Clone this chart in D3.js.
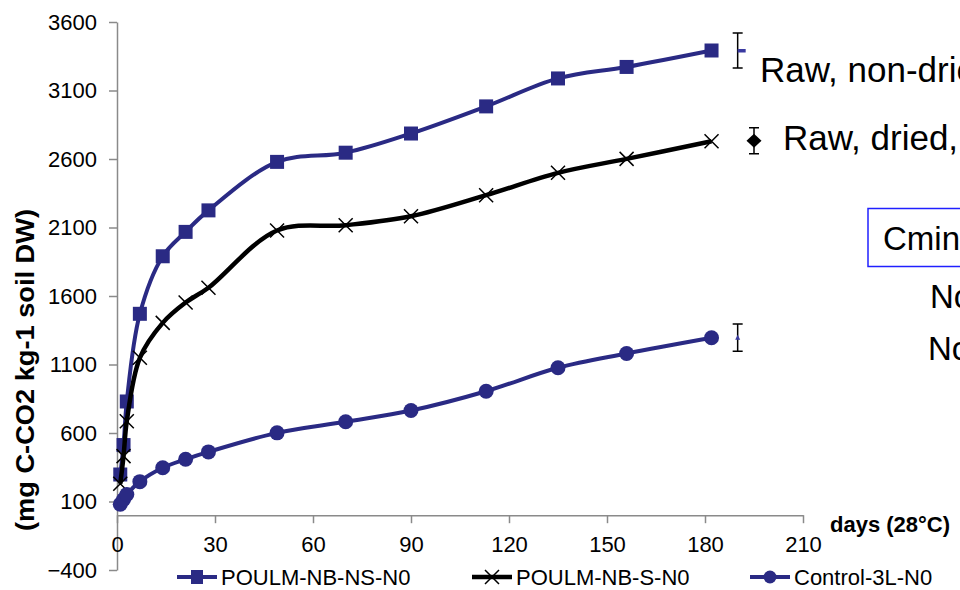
<!DOCTYPE html>
<html><head><meta charset="utf-8">
<script src="https://cdn.jsdelivr.net/npm/d3@7"></script>
<style>
body{margin:0;background:#fff;}
svg{display:block;font-family:"Liberation Sans",Arial,sans-serif;}
</style></head><body>
<svg id="c" width="960" height="590"></svg>
<script>
// ---- data ----
const days = [1, 2, 3, 7, 14, 21, 28, 49, 70, 90, 113, 135, 156, 182];
const seriesNames = ["POULM-NB-NS-N0", "POULM-NB-S-N0", "Control-3L-N0"];
const poulmNS = [297, 512, 830, 1470, 1890, 2068, 2225, 2579, 2646, 2786, 2984, 3188, 3272, 3392];
const poulmS  = [230, 431, 686, 1149, 1404, 1552, 1660, 2078, 2117, 2182, 2336, 2499, 2601, 2730];
const control = [80, 115, 151, 245, 346, 408, 462, 601, 682, 764, 905, 1076, 1180, 1295];
const yTicks = [-400, 100, 600, 1100, 1600, 2100, 2600, 3100, 3600];
const xTicks = [0, 30, 60, 90, 120, 150, 180, 210];
const errDays = [190, 195, 190];
const errMean = [3392, 2733, 1296];
const errSd = [127, 95, 100];
const sideLabels = ["Raw, non-dried", "Raw, dried, sieved"];
const boxLabel = "Cmin (mg C-CO2 kg-1)";
const noteLabels = ["No amendment", "No nitrogen"];

const navy = "#2a2a84";
const svg = d3.select("#c");
const x = d3.scaleLinear([0, 210], [117, 803]);
const y = d3.scaleLinear([-400, 3600], [570, 22]);

// axes
const gy = svg.append("g").attr("transform", `translate(${x(0)},0)`)
  .call(d3.axisLeft(y).tickValues(yTicks).tickSize(8).tickSizeOuter(0).tickPadding(12).tickFormat(d3.format("d")));
const gx = svg.append("g").attr("transform", `translate(0,${y(0)})`)
  .call(d3.axisBottom(x).tickValues(xTicks).tickSize(8).tickSizeOuter(0).tickPadding(13));
[gx, gy].forEach(g => {
  g.selectAll("path,line").attr("stroke", "#8a8a8a").attr("stroke-width", 1.5);
  g.selectAll("text").attr("fill", "#000").style("font-size", "22px").style("font-family", '"Liberation Sans",Arial,sans-serif');
});

// axis titles
svg.append("text").attr("transform", `translate(34,370) rotate(-90)`)
  .attr("text-anchor", "middle").style("font-weight", "bold").style("font-size", "25px")
  .attr("textLength", 322).attr("lengthAdjust", "spacingAndGlyphs")
  .text("(mg C-CO2 kg-1 soil DW)");
svg.append("text").attr("x", 830).attr("y", 532).style("font-weight", "bold").style("font-size", "22px")
  .text("days (28°C)");

const line = d3.line().x((d, i) => x(days[i])).y(d => y(d)).curve(d3.curveCatmullRom.alpha(0.5));

// series 1: squares
svg.append("path").datum(poulmNS).attr("d", line).attr("fill", "none").attr("stroke", navy).attr("stroke-width", 4);
svg.append("g").selectAll("rect").data(poulmNS).join("rect")
  .attr("x", (d, i) => x(days[i]) - 7).attr("y", d => y(d) - 7).attr("width", 14).attr("height", 14).attr("fill", navy);

// series 2: crosses
svg.append("path").datum(poulmS).attr("d", line).attr("fill", "none").attr("stroke", "#000").attr("stroke-width", 4.5);
const crossPath = (cx, cy, s) => `M${cx - s},${cy - s}L${cx + s},${cy + s}M${cx - s},${cy + s}L${cx + s},${cy - s}`;
svg.append("g").selectAll("path").data(poulmS).join("path")
  .attr("d", (d, i) => crossPath(x(days[i]), y(d), 7)).attr("stroke", "#000").attr("stroke-width", 1.5);

// series 3: circles
svg.append("path").datum(control).attr("d", line).attr("fill", "none").attr("stroke", navy).attr("stroke-width", 4);
svg.append("g").selectAll("circle").data(control).join("circle")
  .attr("cx", (d, i) => x(days[i])).attr("cy", d => y(d)).attr("r", 7.5).attr("fill", navy);

// error bars
const eg = svg.append("g");
errDays.forEach((dd, i) => {
  const cx = x(dd), t = y(errMean[i] + errSd[i]), b = y(errMean[i] - errSd[i]);
  eg.append("path").attr("d", `M${cx},${t}V${b}M${cx - 5},${t}H${cx + 5}M${cx - 5},${b}H${cx + 5}`)
    .attr("stroke", "#000").attr("stroke-width", 1.5).attr("fill", "none");
});
{
  const cy0 = y(errMean[0]), cx0 = x(errDays[0]);
  eg.append("rect").attr("x", cx0).attr("y", cy0 - 1.5).attr("width", 8).attr("height", 3.5).attr("fill", "#3a3aa0");
  const cx1 = x(errDays[1]), cy1 = y(errMean[1]);
  eg.append("path").attr("d", `M${cx1},${cy1 - 7}L${cx1 + 7.5},${cy1}L${cx1},${cy1 + 7}L${cx1 - 7.5},${cy1}Z`).attr("fill", "#000");
  const cx2 = x(errDays[2]), cy2 = y(errMean[2]);
  eg.append("path").attr("d", `M${cx2},${cy2 - 3}L${cx2 + 2.5},${cy2 + 2}L${cx2 - 2.5},${cy2 + 2}Z`).attr("fill", "#3a3aa0");
}

// side labels
svg.append("text").attr("x", 760).attr("y", 82).style("font-size", "35px").text(sideLabels[0]);
svg.append("text").attr("x", 783).attr("y", 150).style("font-size", "35px").text(sideLabels[1]);
svg.append("rect").attr("x", 868).attr("y", 208.5).attr("width", 200).attr("height", 58)
  .attr("fill", "none").attr("stroke", "#2020ff").attr("stroke-width", 1.5);
svg.append("text").attr("x", 883).attr("y", 250).style("font-size", "33px").text(boxLabel);
svg.append("text").attr("x", 930).attr("y", 308).style("font-size", "33px").text(noteLabels[0]);
svg.append("text").attr("x", 928).attr("y", 360).style("font-size", "33px").text(noteLabels[1]);

// legend
const ly = 577;
const legX = [177, 472, 750];
const lg = svg.append("g");
seriesNames.forEach((name, i) => {
  const lx = legX[i];
  const col = i === 1 ? "#000" : navy;
  lg.append("line").attr("x1", lx).attr("x2", lx + 40).attr("y1", ly).attr("y2", ly)
    .attr("stroke", col).attr("stroke-width", i === 1 ? 4.5 : 4);
  if (i === 0) lg.append("rect").attr("x", lx + 14).attr("y", ly - 7).attr("width", 12).attr("height", 14).attr("fill", navy);
  if (i === 1) lg.append("path").attr("d", crossPath(lx + 20, ly, 7)).attr("stroke", "#000").attr("stroke-width", 1.5);
  if (i === 2) lg.append("circle").attr("cx", lx + 20).attr("cy", ly).attr("r", 6.5).attr("fill", navy);
  lg.append("text").attr("x", lx + 44).attr("y", ly + 7.5).style("font-size", "22px").text(name);
});
</script></body></html>
